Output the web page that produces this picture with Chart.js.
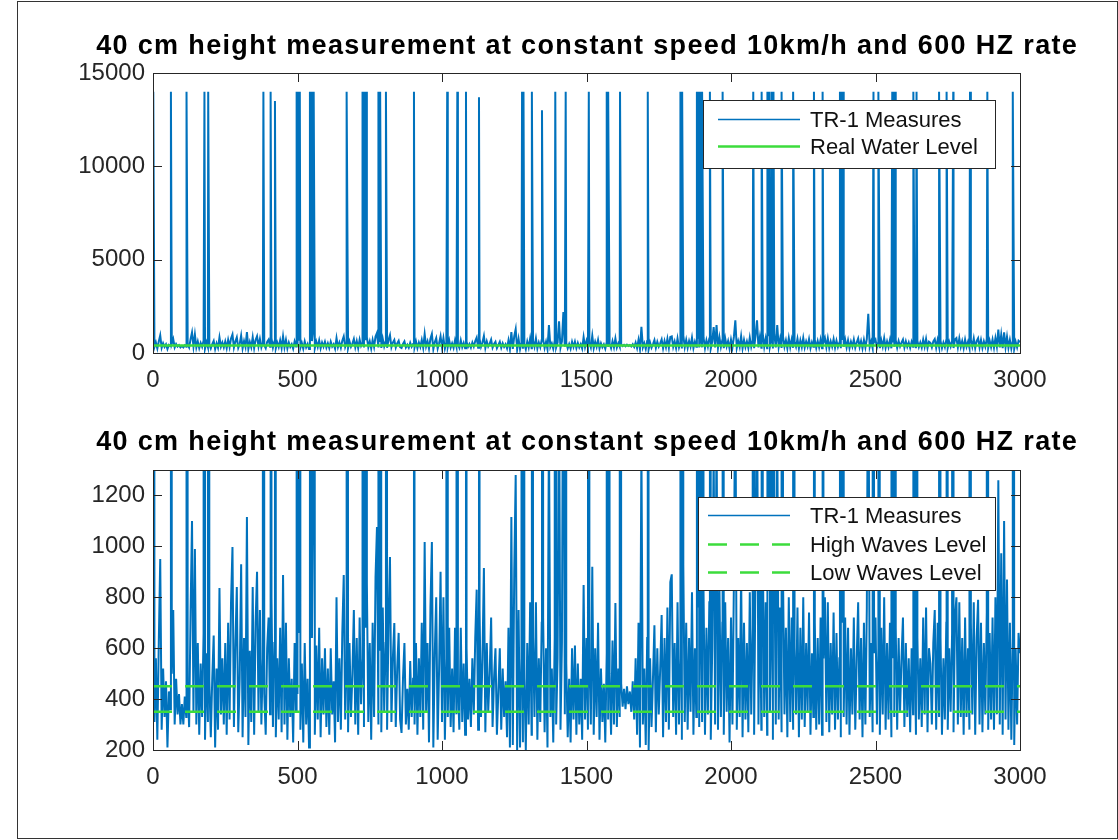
<!DOCTYPE html>
<html>
<head>
<meta charset="utf-8">
<script src="https://cdn.jsdelivr.net/npm/chart.js@4.4.1/dist/chart.umd.min.js"></script>
<style>
body { margin: 0; background: #fff; }
#frame { position: absolute; left: 17px; top: 1px; width: 1099px; height: 836px; border: 1px solid #333; }
#topChart { position: absolute; left: 0; top: 0; }
#bottomChart { position: absolute; left: 0; top: 400px; }
</style>
</head>
<body>
<div id="frame"></div>
<canvas id="topChart" width="1118" height="400"></canvas>
<canvas id="bottomChart" width="1118" height="440"></canvas>
<script>
var chartTitle = '40 cm height measurement at constant speed 10km/h and 600 HZ rate';
var xTicks = [0, 500, 1000, 1500, 2000, 2500, 3000];
var topYTicks = [0, 5000, 10000, 15000];
var bottomYTicks = [200, 400, 600, 800, 1000, 1200];

// TR-1 samples, one every 5 samples
var sampleStep = 5;
var measures = [
  820,310,560,240,620,950,280,520,330,470,210,430,360,500,750,300,480,340,420,300,
  380,300,410,330,450,290,740,1100,350,990,300,620,260,540,330,660,240,580,310,470,
  250,480,650,210,520,280,836,340,560,300,620,260,700,320,780,997,290,610,840,270,
  480,930,250,640,330,1115,220,590,310,840,260,700,900,350,750,300,560,420,260,600,
  720,340,800,290,620,250,560,320,680,270,887,300,700,240,560,330,480,230,620,350,
  420,660,280,540,230,620,300,480,210,1770,640,1300,260,610,320,680,250,560,340,600,
  290,520,260,600,340,470,230,800,310,560,280,660,887,320,540,270,620,330,500,750,
  300,640,260,720,380,560,290,680,856,310,620,240,700,330,880,1076,300,590,270,760,
  350,620,280,700,958,310,560,699,290,520,660,320,267,480,620,300,440,280,550,330,
  480,300,620,260,560,330,700,280,1017,350,620,230,760,1017,210,580,800,240,520,900,
  310,800,240,560,330,680,290,520,270,680,340,460,280,680,310,540,260,600,320,480,
  290,560,340,640,830,280,750,330,560,915,270,620,350,500,720,290,480,600,260,430,
  600,280,520,330,470,250,680,210,1115,220,900,1280,200,750,210,560,230,480,200,620,
  300,780,260,640,330,780,240,560,310,700,720,270,600,210,1500,330,520,230,640,300,
  560,1700,280,620,2200,340,540,250,480,230,600,320,610,260,540,300,480,240,848,320,
  640,280,560,300,920,260,600,330,700,240,520,310,460,230,580,320,500,260,630,300,
  777,290,520,330,460,370,440,360,450,380,430,350,470,320,560,260,700,210,1400,300,
  520,220,640,200,560,290,480,690,270,600,340,520,730,250,640,310,760,280,860,890,
  330,620,260,780,300,560,240,927,310,700,280,640,350,820,260,600,330,760,290,700,
  310,820,260,680,340,780,240,600,1390,300,1500,280,840,330,700,260,780,350,640,230,
  720,300,860,1750,280,640,330,900,250,700,320,620,270,820,340,680,260,940,1750,300,
  860,280,1020,330,780,260,900,350,700,240,980,300,1500,320,760,270,880,340,680,250,
  800,310,720,280,600,340,760,250,680,320,800,290,620,350,740,260,580,330,700,280,
  640,300,720,260,560,800,310,780,270,620,340,740,280,660,320,560,250,700,330,720,
  300,680,260,600,340,720,280,560,780,320,640,250,700,300,760,2100,330,620,270,580,
  720,300,600,260,680,340,800,280,620,320,700,250,560,330,680,280,640,350,560,720,
  290,620,330,560,270,600,340,680,260,640,320,560,290,720,340,760,270,600,540,300,
  620,750,280,700,330,640,260,560,320,700,280,600,350,660,270,720,800,300,780,330,
  640,260,720,330,600,280,700,340,780,260,640,790,300,700,270,620,340,740,280,660,
  320,720,280,800,340,1260,300,973,260,1100,320,870,280,700,240,640,220,600,300,660,
  580
];

// the tall outliers
var spikeX = [
  1, 62, 116, 178, 191, 382, 407, 422, 497, 502, 508, 543, 549, 556, 670,
  725, 731, 738, 780, 786, 806, 903, 1018, 1053, 1083, 1128, 1277, 1282, 1311, 1346,
  1392, 1428, 1508, 1570, 1575, 1616, 1712, 1825, 1831, 1882, 1888, 1894, 1900, 1927, 1971,
  2077, 2106, 2126, 2132, 2140, 2147, 2175, 2215, 2287, 2317, 2377, 2383, 2388, 2493, 2510,
  2558, 2564, 2569, 2631, 2642, 2720, 2746, 2769, 2827, 2887, 2975
];
var spikeY = [
  14000, 14000, 14000, 14000, 14000, 14000, 14000, 13500, 14000, 14000, 14000, 14000, 14000, 14000, 14000,
  14000, 14000, 14000, 14000, 14000, 14000, 14000, 14000, 14000, 14000, 13700, 14000, 14000, 14000, 13000,
  14000, 14000, 14000, 14000, 14000, 14000, 14000, 14000, 14000, 14000, 14000, 14000, 14000, 14000, 14000,
  14000, 14000, 14000, 14000, 14000, 14000, 14000, 14000, 14000, 14000, 14000, 14000, 14000, 14000, 14000,
  14000, 14000, 14000, 14000, 14000, 14000, 14000, 14000, 14000, 14000, 14000
];

var levelX = [0, 3000];
var realWaterLevel = [400, 400];
var highWavesLevel = [450, 450];
var lowWavesLevel = [350, 350];

var BLUE = '#0072BD';
var GREEN = '#3cdc3c';
var FONT = '"Liberation Sans", Arial, sans-serif';
var AXIS = '#262626';

function measurePoints() {
  var pts = measures.map(function(v, i) { return { x: i * sampleStep, y: v }; });
  spikeX.forEach(function(x, i) { pts.push({ x: x, y: spikeY[i] }); });
  pts.sort(function(a, b) { return a.x - b.x; });
  return pts;
}
function levelPoints(vals) {
  return levelX.map(function(x, i) { return { x: x, y: vals[i] }; });
}

// MATLAB-ish box with inward ticks, title and boxed legend
var matlabLook = {
  id: 'matlabLook',
  afterDatasetsDraw: function(chart, args, o) {
    var ctx = chart.ctx, a = chart.chartArea, xs = chart.scales.x, ys = chart.scales.y;
    ctx.save();
    ctx.strokeStyle = AXIS;
    ctx.lineWidth = 1;
    ctx.strokeRect(Math.round(a.left) + 0.5, Math.round(a.top) + 0.5, Math.round(a.right - a.left), Math.round(a.bottom - a.top));
    ctx.beginPath();
    xs.ticks.forEach(function(t) {
      var px = Math.round(xs.getPixelForValue(t.value)) + 0.5;
      ctx.moveTo(px, a.bottom); ctx.lineTo(px, a.bottom - o.tickLen);
      ctx.moveTo(px, a.top); ctx.lineTo(px, a.top + o.tickLen);
    });
    ys.ticks.forEach(function(t) {
      var py = Math.round(ys.getPixelForValue(t.value)) + 0.5;
      ctx.moveTo(a.left, py); ctx.lineTo(a.left + o.tickLen, py);
      ctx.moveTo(a.right, py); ctx.lineTo(a.right - o.tickLen, py);
    });
    ctx.stroke();
    ctx.restore();
  },
  afterDraw: function(chart, args, o) {
    var ctx = chart.ctx, a = chart.chartArea;
    ctx.save();
    // title
    ctx.font = 'bold ' + o.titleSize + 'px ' + FONT;
    ctx.fillStyle = '#000';
    ctx.textAlign = 'center';
    ctx.textBaseline = 'middle';
    try { ctx.letterSpacing = o.titleSpacing + 'px'; } catch (e) {}
    ctx.fillText(chartTitle, (a.left + a.right) / 2 + o.titleSpacing / 2, a.top - o.titleOffset);
    try { ctx.letterSpacing = '0px'; } catch (e) {}
    // legend
    var L = o.legend;
    var left = a.right - L.right - L.width, top = a.top + L.top;
    ctx.fillStyle = '#fff';
    ctx.fillRect(left, top, L.width, L.height);
    ctx.strokeStyle = AXIS;
    ctx.lineWidth = 1;
    ctx.strokeRect(Math.round(left) + 0.5, Math.round(top) + 0.5, L.width, L.height);
    ctx.font = L.size + 'px ' + FONT;
    ctx.textAlign = 'left';
    chart.data.datasets.forEach(function(ds, i) {
      var y = Math.round(top + L.first + i * L.gap) + 0.5;
      ctx.save();
      ctx.strokeStyle = ds.borderColor;
      ctx.lineWidth = ds.legendWidth || ds.borderWidth;
      ctx.setLineDash(ds.borderDash || []);
      ctx.beginPath();
      ctx.moveTo(left + L.lineX0, y);
      ctx.lineTo(left + L.lineX1, y);
      ctx.stroke();
      ctx.restore();
      ctx.fillStyle = '#111';
      ctx.fillText(ds.label, left + L.textX, y + 1);
    });
    ctx.restore();
  }
};

function plainLabel(v) { return String(v); }

function makeChart(id, yTicks, yMin, yMax, levels, pad, look) {
  var datasets = [{
    label: 'TR-1 Measures',
    data: measurePoints(),
    borderColor: BLUE,
    borderWidth: 2,
    legendWidth: 1.5,
    order: 2
  }].concat(levels);
  return new Chart(document.getElementById(id), {
    type: 'line',
    data: { datasets: datasets },
    options: {
      responsive: false,
      animation: false,
      events: [],
      layout: { padding: pad },
      elements: { point: { radius: 0 }, line: { tension: 0 } },
      plugins: { legend: { display: false }, title: { display: false }, tooltip: { enabled: false }, matlabLook: look },
      scales: {
        x: {
          type: 'linear', min: 0, max: 3000,
          grid: { display: false, drawTicks: false }, border: { display: false },
          afterBuildTicks: function(s) { s.ticks = xTicks.map(function(v) { return { value: v }; }); },
          afterFit: function(s) { s.height = 47; },
          ticks: { color: AXIS, font: { family: FONT, size: 24 }, padding: 13, maxRotation: 0, callback: plainLabel }
        },
        y: {
          type: 'linear', min: yMin, max: yMax,
          grid: { display: false, drawTicks: false }, border: { display: false },
          afterBuildTicks: function(s) { s.ticks = yTicks.map(function(v) { return { value: v }; }); },
          afterFit: function(s) { s.width = 153; },
          ticks: { color: AXIS, font: { family: FONT, size: 24 }, padding: 8, callback: plainLabel }
        }
      }
    },
    plugins: [matlabLook]
  });
}

makeChart('topChart', topYTicks, 0, 15000, [{
  label: 'Real Water Level',
  data: levelPoints(realWaterLevel),
  borderColor: GREEN,
  borderWidth: 2.5,
  order: 1
}], { top: 73, right: 98, bottom: 0, left: 0 }, {
  tickLen: 9, titleSize: 27, titleSpacing: 1.35, titleOffset: 26,
  legend: { right: 25, top: 27, width: 292, height: 68, first: 19, gap: 27, lineX0: 15, lineX1: 97, textX: 107, size: 22 }
});

makeChart('bottomChart', bottomYTicks, 200, 1300, [{
  label: 'High Waves Level',
  data: levelPoints(highWavesLevel),
  borderColor: GREEN,
  borderWidth: 2.5,
  borderDash: [19, 13],
  order: 1
}, {
  label: 'Low Waves Level',
  data: levelPoints(lowWavesLevel),
  borderColor: GREEN,
  borderWidth: 2.5,
  borderDash: [19, 13],
  order: 1
}], { top: 70, right: 98, bottom: 43, left: 0 }, {
  tickLen: 9, titleSize: 27, titleSpacing: 1.35, titleOffset: 27,
  legend: { right: 25, top: 27, width: 297, height: 93, first: 18, gap: 28.5, lineX0: 10, lineX1: 92, textX: 112, size: 22 }
});
</script>
</body>
</html>
